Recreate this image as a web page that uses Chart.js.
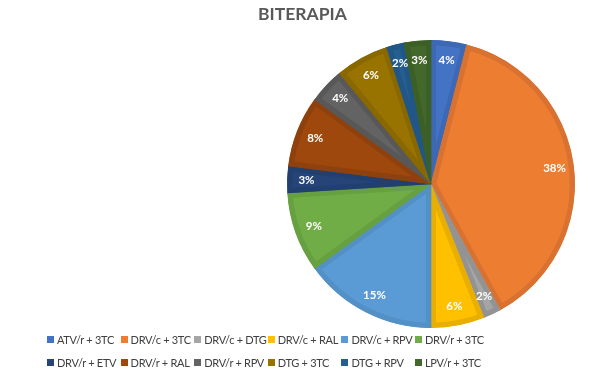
<!DOCTYPE html>
<html>
<head>
<meta charset="utf-8">
<script src="https://cdn.jsdelivr.net/npm/chart.js@4/dist/chart.umd.min.js"></script>
<style>
  html, body { margin: 0; padding: 0; background: #fff; }
  #wrap { position: relative; width: 604px; height: 374px; overflow: hidden; }
  #c { position: absolute; left: 0; top: 0; }
  #title { position: absolute; left: 0; top: 3px; width: 605px; text-align: center;
           font: bold 17.5px Lato, "Liberation Sans", sans-serif; color: #595959; }
  #legend { position: absolute; left: 47px; top: 331px; display: grid;
            grid-template-columns: repeat(6, 73.6px); grid-auto-rows: 23.5px;
            font: 11px Lato, "Liberation Sans", sans-serif; letter-spacing: -0.3px; color: #404040; }
  .item { display: flex; align-items: center; white-space: nowrap; height: 16px; }
  .sw { width: 7px; height: 7px; margin-right: 3px; flex: none; }
</style>
</head>
<body>
<div id="wrap">
  <canvas id="c" width="604" height="374"></canvas>
  <div id="title">BITERAPIA</div>
  <div id="legend"></div>
</div>
<script>
const titleText = "BITERAPIA";
const categories = ["ATV/r + 3TC", "DRV/c + 3TC", "DRV/c + DTG", "DRV/c + RAL", "DRV/c + RPV", "DRV/r + 3TC",
                    "DRV/r + ETV", "DRV/r + RAL", "DRV/r + RPV", "DTG + 3TC", "DTG + RPV", "LPV/r + 3TC"];
const values = [4, 38, 2, 6, 15, 9, 3, 8, 4, 6, 2, 3];
const colors = ["#4472C4", "#ED7D31", "#A5A5A5", "#FFC000", "#5B9BD5", "#70AD47",
                "#264478", "#9E480E", "#636363", "#997300", "#255E91", "#43682B"];
const borderColors = ["#3D68B4", "#D97230", "#939393", "#E8AF00", "#5290C6", "#66A040",
                      "#22406F", "#8F410D", "#585858", "#8A6800", "#215686", "#3C5F26"];

const legendEl = document.getElementById('legend');
categories.forEach((c, i) => {
  const d = document.createElement('div');
  d.className = 'item';
  d.innerHTML = '<span class="sw" style="background:' + colors[i] + '"></span><span></span>';
  d.lastChild.textContent = c;
  legendEl.appendChild(d);
});

const pctLabels = {
  id: 'pctLabels',
  afterDatasetsDraw(chart) {
    const ctx = chart.ctx;
    const meta = chart.getDatasetMeta(0);
    ctx.save();
    ctx.font = 'bold 11.5px Lato, "Liberation Sans", sans-serif';
    ctx.fillStyle = '#ffffff';
    ctx.textAlign = 'center';
    ctx.textBaseline = 'middle';
    meta.data.forEach((arc, i) => {
      const p = arc.getProps(['x', 'y', 'startAngle', 'endAngle', 'outerRadius'], true);
      const a = (p.startAngle + p.endAngle) / 2;
      const r = p.outerRadius * 0.865;
      ctx.fillText(values[i] + '%', p.x + Math.cos(a) * r, p.y + Math.sin(a) * r);
    });
    ctx.restore();
  }
};

new Chart(document.getElementById('c'), {
  type: 'pie',
  data: {
    labels: categories,
    datasets: [{
      data: values,
      backgroundColor: colors,
      borderColor: borderColors,
      borderWidth: 5,
      borderAlign: 'inner'
    }]
  },
  options: {
    responsive: false,
    animation: false,
    layout: { padding: { left: 287, right: 29, top: 40, bottom: 46 } },
    plugins: {
      legend: { display: false },
      title: { display: false },
      tooltip: { enabled: false }
    }
  },
  plugins: [pctLabels]
});
</script>
</body>
</html>
